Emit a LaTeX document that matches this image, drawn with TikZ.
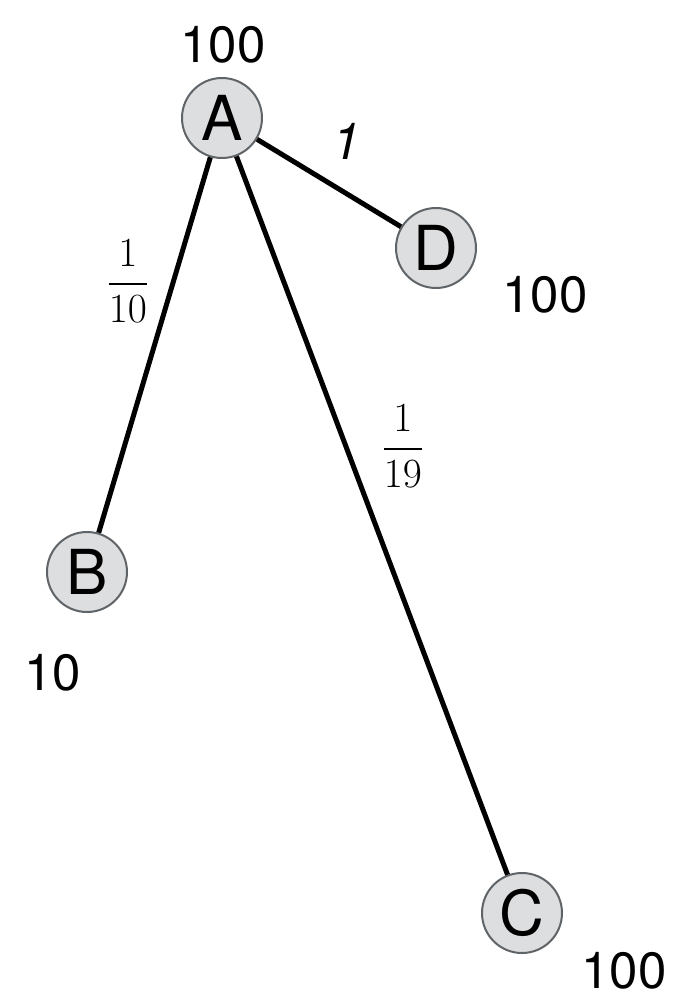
\documentclass[tikz,border=0pt]{standalone}
\usepackage{amsmath}
\usepackage{fontspec}
\newfontfamily\heros{TeX Gyre Heros}
\definecolor{nodefill}{HTML}{DDDEE0}
\definecolor{nodeline}{HTML}{5F6468}
\tikzset{
  vertex/.style={circle, draw=nodeline, fill=nodefill, line width=1pt,
    minimum size=40pt, inner sep=0pt, font=\heros\fontsize{31}{31}\selectfont},
  weight/.style={font=\heros\fontsize{25.5}{26}\selectfont},
  edge/.style={line width=2.5pt, black},
  cost/.style={font=\fontsize{21}{25}\selectfont}
}
\begin{document}
\begin{tikzpicture}[x=0.5pt, y=-0.5pt]
  \useasboundingbox (0,0) rectangle (700,997);
  % Vertices
  \node[vertex] (A) at (222,118) {A};
  \node[vertex] (D) at (436,248) {D};
  \node[vertex] (B) at (87,572) {B};
  \node[vertex] (C) at (522,913) {C};
  % Vertex weights
  \node[weight] (wA) at (223,45) {100};
  \node[weight] (wD) at (545,295) {100};
  \node[weight] (wB) at (53,673) {10};
  \node[weight] (wC) at (624,971) {100};
  % Edges
  \draw[edge] (A) -- (D);
  \draw[edge] (A) -- (B);
  \draw[edge] (A) -- (C);
  % Edge costs
  \node[weight, font=\heros\itshape\fontsize{25.5}{26}\selectfont] (cAD) at (347,141) {1};
  \node[cost] (cAB) at (128,281) {$\dfrac{1}{10}$};
  \node[cost] (cAC) at (403,446) {$\dfrac{1}{19}$};
\end{tikzpicture}
\end{document}
